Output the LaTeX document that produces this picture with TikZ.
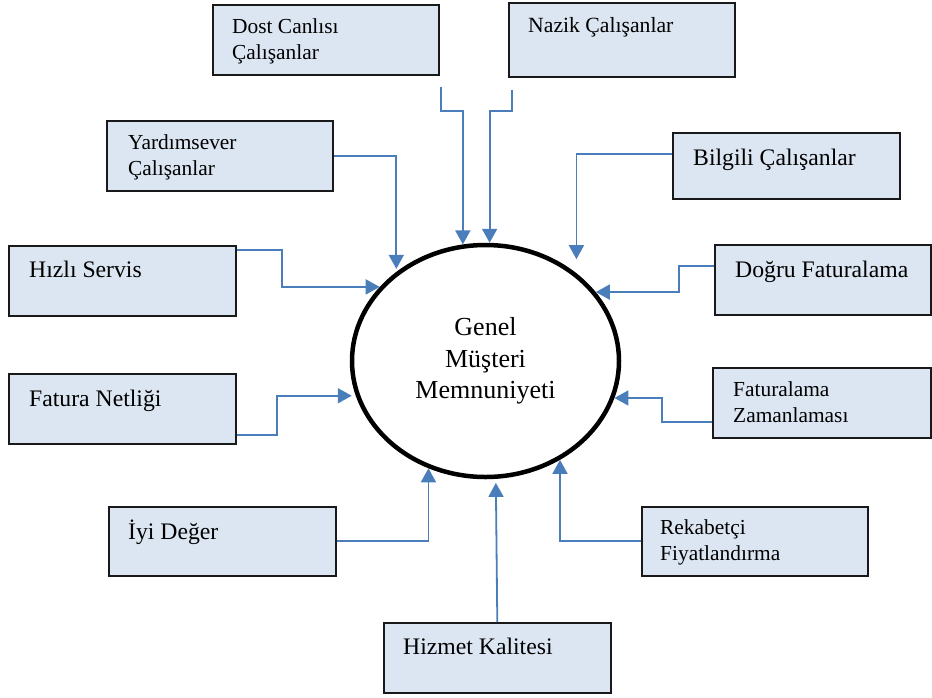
\documentclass[tikz,border=0pt]{standalone}
\usepackage{fontspec}
\setmainfont{Liberation Serif}
\usetikzlibrary{calc,arrows.meta,shapes.geometric}
\definecolor{boxfill}{RGB}{220,230,242}
\definecolor{linkblue}{RGB}{74,126,187}
\begin{document}
\begin{tikzpicture}
[
    x=1pt, y=-1pt,
    box/.style={draw=black!90, line width=1.6pt, fill=boxfill, inner sep=0pt, anchor=north west},
    lbl/.style={inner sep=0pt, anchor=base west, align=left, font=\fontsize{21.4}{25.5}\selectfont},
    lblbig/.style={lbl, font=\fontsize{23.7}{28}\selectfont},
    conn/.style={draw=linkblue, line width=1.8pt, -{Triangle[length=14pt,width=15pt]}},
]
\useasboundingbox (0,0) rectangle (932,697);

% the centre
\node[draw, ellipse, line width=4.5pt, minimum width=267pt, minimum height=232pt, inner sep=0pt,
      align=center, font=\fontsize{26}{31.5}\selectfont] (ell) at (485.5,361) {Genel\\Müşteri\\Memnuniyeti};

% boxes round it
\node[box, minimum width=226pt, minimum height=70pt] (dost) at (212,4) {};
\node[box, minimum width=226pt, minimum height=74pt] (nazik) at (508,2) {};
\node[box, minimum width=226pt, minimum height=70pt] (yardim) at (106,120) {};
\node[box, minimum width=227pt, minimum height=70pt] (hizli) at (8,245) {};
\node[box, minimum width=227pt, minimum height=66pt] (bilgili) at (672,132) {};
\node[box, minimum width=216pt, minimum height=70pt] (dogru) at (714,244) {};
\node[box, minimum width=227pt, minimum height=70pt] (fatnet) at (8,373) {};
\node[box, minimum width=227pt, minimum height=69pt] (iyi) at (108,506) {};
\node[box, minimum width=218pt, minimum height=70pt] (fatzam) at (712,367) {};
\node[box, minimum width=226pt, minimum height=69pt] (rekabet) at (641,506) {};
\node[box, minimum width=227pt, minimum height=70pt] (hizmet) at (383,622) {};

% two-line labels sit on their last baseline
\node[lbl] (dost-t) at ($(dost.north west)+(20,55)$) {Dost Canlısı\\Çalışanlar};
\node[lbl, font=\fontsize{21.7}{25}\selectfont] (nazik-t) at ($(nazik.north west)+(20,30)$) {Nazik Çalışanlar};
\node[lbl] (yardim-t) at ($(yardim.north west)+(22,55)$) {Yardımsever\\Çalışanlar};
\node[lblbig] (hizli-t) at ($(hizli.north west)+(21,32)$) {Hızlı Servis};
\node[lblbig] (bilgili-t) at ($(bilgili.north west)+(21,33)$) {Bilgili Çalışanlar};
\node[lblbig] (dogru-t) at ($(dogru.north west)+(21,33)$) {Doğru Faturalama};
\node[lblbig] (fatnet-t) at ($(fatnet.north west)+(21,33)$) {Fatura Netliği};
\node[lblbig] (iyi-t) at ($(iyi.north west)+(20,33)$) {İyi Değer};
\node[lbl] (fatzam-t) at ($(fatzam.north west)+(21,55)$) {Faturalama\\Zamanlaması};
\node[lbl] (rekabet-t) at ($(rekabet.north west)+(19,54)$) {Rekabetçi\\Fiyatlandırma};
\node[lblbig] (hizmet-t) at ($(hizmet.north west)+(20,32)$) {Hizmet Kalitesi};

% connectors
\draw[conn] ($(dost.south east)+(1,11)$) -- ++(0,24) -| (ell.101.4);
\draw[conn] ($(nazik.south west)+(4,12)$) -- ++(0,21) -| (ell.88.8);
\draw[conn, shorten >=3pt] (yardim.east) -| (ell.135.3);
\draw[conn] ($(hizli.north east)+(0,5)$) -- ++(45,0) |- (ell.145);
\draw[conn, shorten >=14pt] ($(bilgili.north west)+(0,22)$) -| (ell.44.7);
\draw[conn] ($(dogru.north west)+(0,22)$) -- ++(-35,0) |- (ell.32.1);
\draw[conn, shorten >=4pt] ($(fatnet.south east)+(0,-10)$) -- ++(40,0) |- (ell.195.6);
\draw[conn] (iyi.east) -| (ell.242.2);
\draw[conn] ($(fatzam.south west)+(0,-17)$) -- ++(-50,0) |- (ell.344.4);
\draw[conn] (rekabet.west) -| (ell.307.1);
\draw[conn, shorten >=4pt] (hizmet.north) -- (ell.275.6);
\end{tikzpicture}
\end{document}
